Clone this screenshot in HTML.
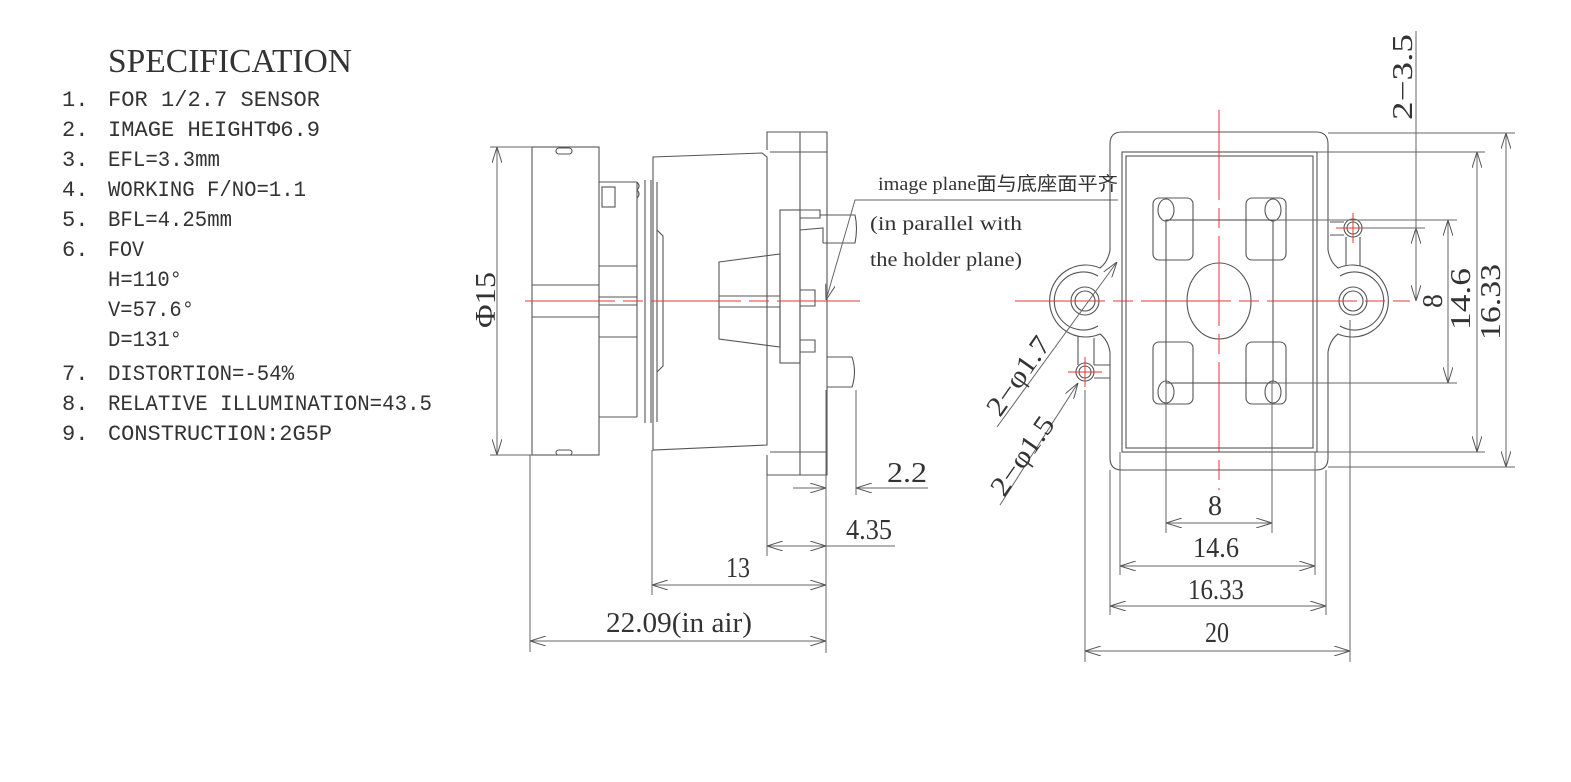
<!DOCTYPE html>
<html><head><meta charset="utf-8"><style>
html,body{margin:0;padding:0;background:#fff;}
svg{display:block;}
text{font-family:"Liberation Mono","Noto Sans CJK SC",monospace;fill:#333;}
.d{font-family:"Liberation Serif","Noto Sans CJK SC",serif;}
</style></head><body>
<svg width="1571" height="782" viewBox="0 0 1571 782" xmlns="http://www.w3.org/2000/svg">
<defs>
<marker id="a" viewBox="0 0 16 10" refX="16" refY="5" markerWidth="16" markerHeight="10" markerUnits="userSpaceOnUse" orient="auto-start-reverse">
<polyline points="0,0 16,5 0,10" fill="none" stroke="#555" stroke-width="1"/>
</marker>
</defs>
<rect width="1571" height="782" fill="#fff"/>

<!-- Spec -->
<text x="108" y="72" font-size="34" class="d" textLength="244" lengthAdjust="spacingAndGlyphs">SPECIFICATION</text>
<g font-size="22">
<text x="62" y="106">1.</text><text x="108" y="106" textLength="212" lengthAdjust="spacingAndGlyphs">FOR 1/2.7  SENSOR</text>
<text x="62" y="136">2.</text><text x="108" y="136" textLength="212" lengthAdjust="spacingAndGlyphs">IMAGE HEIGHTΦ6.9</text>
<text x="62" y="166">3.</text><text x="108" y="166" textLength="112" lengthAdjust="spacingAndGlyphs">EFL=3.3mm</text>
<text x="62" y="196">4.</text><text x="108" y="196" textLength="198" lengthAdjust="spacingAndGlyphs">WORKING F/NO=1.1</text>
<text x="62" y="226">5.</text><text x="108" y="226" textLength="124" lengthAdjust="spacingAndGlyphs">BFL=4.25mm</text>
<text x="62" y="256">6.</text><text x="108" y="256" textLength="36" lengthAdjust="spacingAndGlyphs">FOV</text>
<text x="108" y="286" textLength="74" lengthAdjust="spacingAndGlyphs">H=110°</text>
<text x="108" y="316" textLength="86" lengthAdjust="spacingAndGlyphs">V=57.6°</text>
<text x="108" y="346" textLength="74" lengthAdjust="spacingAndGlyphs">D=131°</text>
<text x="62" y="380">7.</text><text x="108" y="380" textLength="186" lengthAdjust="spacingAndGlyphs">DISTORTION=-54%</text>
<text x="62" y="410">8.</text><text x="108" y="410" textLength="324" lengthAdjust="spacingAndGlyphs">RELATIVE ILLUMINATION=43.5</text>
<text x="62" y="440">9.</text><text x="108" y="440" textLength="224" lengthAdjust="spacingAndGlyphs">CONSTRUCTION:2G5P</text>
</g>

<!-- Side view -->
<g fill="none" stroke="#555" stroke-width="1.1">
<rect x="532" y="147" width="67" height="308"/>
<line x1="532" y1="285" x2="599" y2="285"/><line x1="532" y1="317" x2="599" y2="317"/>
<rect x="556" y="148" width="16" height="6" rx="3"/>
<rect x="556" y="450" width="16" height="5" rx="2.5"/>
<line x1="599" y1="182" x2="637" y2="182"/><line x1="599" y1="417" x2="637" y2="417"/>
<line x1="599" y1="266" x2="637" y2="266"/><line x1="599" y1="337" x2="637" y2="337"/>
<line x1="599" y1="297" x2="637" y2="297"/><line x1="599" y1="305" x2="637" y2="305"/>
<rect x="602" y="187" width="13" height="20"/>
<path d="M637,182 q4,4 0,8 q4,4 0,8 M645,180 l0,243 M651,180 l0,243 M657,182 l0,240 M637,182 l0,235"/>
<path d="M657,230 l6,6 l0,130 l-6,6"/>
<path d="M653,157 L762,153 L767,157 L767,445 L653,450 Z"/>
<path d="M767,150 L767,132 L827,132 L827,475 L767,475 L767,455"/>
<line x1="800" y1="132" x2="800" y2="475"/>
<line x1="770" y1="152" x2="827" y2="152"/><line x1="770" y1="452" x2="827" y2="452"/>
<path d="M719,262 L780,254 L780,347 L719,339 Z"/>
<line x1="719" y1="296" x2="780" y2="296"/><line x1="719" y1="307" x2="780" y2="307"/>
<rect x="780" y="210" width="20" height="153"/>
<path d="M780,210 L820,210 L820,218 L800,218 M800,230 L823,228 L823,243 M800,290 L815,290 L815,306 L800,306 M800,340 L815,340 L815,352 L800,352"/>
<path d="M820,215 L855,215 Q858,228 855,243 L823,243"/>
<path d="M827,357 L852,357 Q857,372 852,387 L827,387"/>
</g>
<line x1="525" y1="301" x2="860" y2="301" stroke="#e33" stroke-width="1" stroke-dasharray="90,8,20,8"/>
<text x="878" y="190" font-size="19" class="d" textLength="240" lengthAdjust="spacingAndGlyphs">image plane面与底座面平齐</text>
<text x="870" y="230" font-size="20" class="d" textLength="152" lengthAdjust="spacingAndGlyphs">(in parallel with</text>
<text x="870" y="266" font-size="20" class="d" textLength="152" lengthAdjust="spacingAndGlyphs">the holder plane)</text>
<g fill="none" stroke="#666" stroke-width="1">
<polyline points="1118,200 855,200 826,300" marker-end="url(#a)"/>
<line x1="490" y1="147" x2="532" y2="147"/><line x1="490" y1="455" x2="532" y2="455"/>
<line x1="497" y1="147" x2="497" y2="455" marker-start="url(#a)" marker-end="url(#a)"/>
<line x1="530" y1="455" x2="530" y2="652"/>
<line x1="652" y1="450" x2="652" y2="595"/>
<line x1="767" y1="475" x2="767" y2="556"/>
<line x1="826" y1="390" x2="826" y2="653"/>
<line x1="856" y1="390" x2="856" y2="495"/>
<line x1="793" y1="488" x2="826" y2="488" marker-end="url(#a)"/>
<line x1="928" y1="488" x2="856" y2="488" marker-end="url(#a)"/>
<line x1="767" y1="546" x2="826" y2="546" marker-start="url(#a)" marker-end="url(#a)"/>
<line x1="826" y1="546" x2="895" y2="546"/>
<line x1="652" y1="585" x2="826" y2="585" marker-start="url(#a)" marker-end="url(#a)"/>
<line x1="530" y1="641" x2="826" y2="641" marker-start="url(#a)" marker-end="url(#a)"/>
</g>
<g class="d" font-size="28">
<text x="887" y="482" class="d" textLength="40" lengthAdjust="spacingAndGlyphs">2.2</text>
<text x="846" y="539" class="d" textLength="46" lengthAdjust="spacingAndGlyphs">4.35</text>
<text x="726" y="577" class="d" textLength="24" lengthAdjust="spacingAndGlyphs">13</text>
<text x="606" y="632" class="d" textLength="146" lengthAdjust="spacingAndGlyphs">22.09(in air)</text>
<text x="0" y="0" class="d" transform="translate(495,328) rotate(-90)" textLength="56" lengthAdjust="spacingAndGlyphs">Φ15</text>
</g>

<!-- Front view -->
<g fill="none" stroke="#555" stroke-width="1.1">
<path d="M1122,132 L1316,132 Q1328,132 1328,144 L1328,250 Q1330,262 1338,268 A36,36 0 1 1 1338,334 Q1330,340 1328,352 L1328,458 Q1328,470 1316,470 L1122,470 Q1110,470 1110,458 L1110,352 Q1108,340 1100,334 A36,36 0 1 1 1100,268 Q1108,262 1110,250 L1110,144 Q1110,132 1122,132 Z"/>
<path d="M1098,276 A29,29 0 1 0 1098,326 M1340,276 A29,29 0 1 1 1340,326"/>
<rect x="1122" y="152" width="195" height="300"/>
<rect x="1126" y="156" width="187" height="292"/>
<circle cx="1085" cy="301" r="14"/><circle cx="1085" cy="301" r="10"/>
<circle cx="1353" cy="301" r="14"/><circle cx="1353" cy="301" r="10"/>
<circle cx="1085" cy="372" r="9"/><circle cx="1085" cy="372" r="6"/>
<circle cx="1353" cy="228" r="9"/><circle cx="1353" cy="228" r="6"/>
<path d="M1078,365 L1078,336 M1094,365 L1094,338 M1094,378 L1110,378 M1094,365 L1110,365"/>
<path d="M1346,237 L1346,266 M1360,237 L1360,266 M1330,222 L1344,222 M1330,235 L1344,235"/>
<rect x="1166" y="220" width="107" height="163"/>
<ellipse cx="1219" cy="301" rx="32" ry="38"/>
<rect x="1153" y="198" width="40" height="62" rx="6"/>
<rect x="1246" y="198" width="40" height="62" rx="6"/>
<rect x="1153" y="342" width="40" height="62" rx="6"/>
<rect x="1246" y="342" width="40" height="62" rx="6"/>
<ellipse cx="1166" cy="210" rx="8" ry="11"/><ellipse cx="1273" cy="210" rx="8" ry="11"/>
<ellipse cx="1166" cy="392" rx="8" ry="11"/><ellipse cx="1273" cy="392" rx="8" ry="11"/>
</g>
<g stroke="#e33" stroke-width="1" fill="none">
<line x1="1015" y1="301" x2="1410" y2="301" stroke-dasharray="90,8,20,8"/>
<line x1="1219" y1="110" x2="1219" y2="490" stroke-dasharray="90,8,20,8"/>
<line x1="1068" y1="372" x2="1102" y2="372"/><line x1="1085" y1="357" x2="1085" y2="387"/>
<line x1="1336" y1="228" x2="1370" y2="228"/><line x1="1353" y1="213" x2="1353" y2="243"/>
</g>
<g fill="none" stroke="#666" stroke-width="1">
<line x1="997" y1="427" x2="1117" y2="262" marker-end="url(#a)"/>
<line x1="1000" y1="505" x2="1078" y2="383" marker-end="url(#a)"/>
<line x1="1085" y1="390" x2="1085" y2="662"/>
<line x1="1350" y1="320" x2="1350" y2="662"/>
<line x1="1110" y1="470" x2="1110" y2="615"/>
<line x1="1326" y1="470" x2="1326" y2="615"/>
<line x1="1120" y1="452" x2="1120" y2="575"/>
<line x1="1315" y1="452" x2="1315" y2="575"/>
<line x1="1166" y1="383" x2="1166" y2="533"/>
<line x1="1272" y1="383" x2="1272" y2="533"/>
<line x1="1166" y1="523" x2="1272" y2="523" marker-start="url(#a)" marker-end="url(#a)"/>
<line x1="1120" y1="566" x2="1315" y2="566" marker-start="url(#a)" marker-end="url(#a)"/>
<line x1="1110" y1="606" x2="1326" y2="606" marker-start="url(#a)" marker-end="url(#a)"/>
<line x1="1085" y1="651" x2="1350" y2="651" marker-start="url(#a)" marker-end="url(#a)"/>
<line x1="1328" y1="133" x2="1515" y2="133"/>
<line x1="1317" y1="152" x2="1485" y2="152"/>
<line x1="1273" y1="220" x2="1457" y2="220"/>
<line x1="1362" y1="228" x2="1425" y2="228"/>
<line x1="1273" y1="383" x2="1457" y2="383"/>
<line x1="1317" y1="452" x2="1485" y2="452"/>
<line x1="1328" y1="467" x2="1515" y2="467"/>
<line x1="1416" y1="31" x2="1416" y2="301"/>
<line x1="1416" y1="301" x2="1416" y2="228" marker-end="url(#a)"/>
<line x1="1416" y1="228" x2="1416" y2="301" marker-end="url(#a)"/>
<line x1="1448" y1="220" x2="1448" y2="383" marker-start="url(#a)" marker-end="url(#a)"/>
<line x1="1477" y1="152" x2="1477" y2="452" marker-start="url(#a)" marker-end="url(#a)"/>
<line x1="1506" y1="133" x2="1506" y2="467" marker-start="url(#a)" marker-end="url(#a)"/>
</g>
<g class="d" font-size="28">
<text x="1208" y="515" class="d" textLength="14" lengthAdjust="spacingAndGlyphs">8</text>
<text x="1193" y="557" class="d" textLength="46" lengthAdjust="spacingAndGlyphs">14.6</text>
<text x="1188" y="599" class="d" textLength="56" lengthAdjust="spacingAndGlyphs">16.33</text>
<text x="1205" y="642" class="d" textLength="24" lengthAdjust="spacingAndGlyphs">20</text>
<text class="d" transform="translate(1412,120) rotate(-90)" textLength="86" lengthAdjust="spacingAndGlyphs">2−3.5</text>
<text class="d" transform="translate(1442,308) rotate(-90)" textLength="14" lengthAdjust="spacingAndGlyphs">8</text>
<text class="d" transform="translate(1470,330) rotate(-90)" textLength="62" lengthAdjust="spacingAndGlyphs">14.6</text>
<text class="d" transform="translate(1500,340) rotate(-90)" textLength="76" lengthAdjust="spacingAndGlyphs">16.33</text>
<text class="d" transform="translate(1000,418) rotate(-55)" textLength="90" lengthAdjust="spacingAndGlyphs">2−φ1.7</text>
<text class="d" transform="translate(1004,498) rotate(-55)" textLength="90" lengthAdjust="spacingAndGlyphs">2−φ1.5</text>
</g>
</svg>
</body></html>
